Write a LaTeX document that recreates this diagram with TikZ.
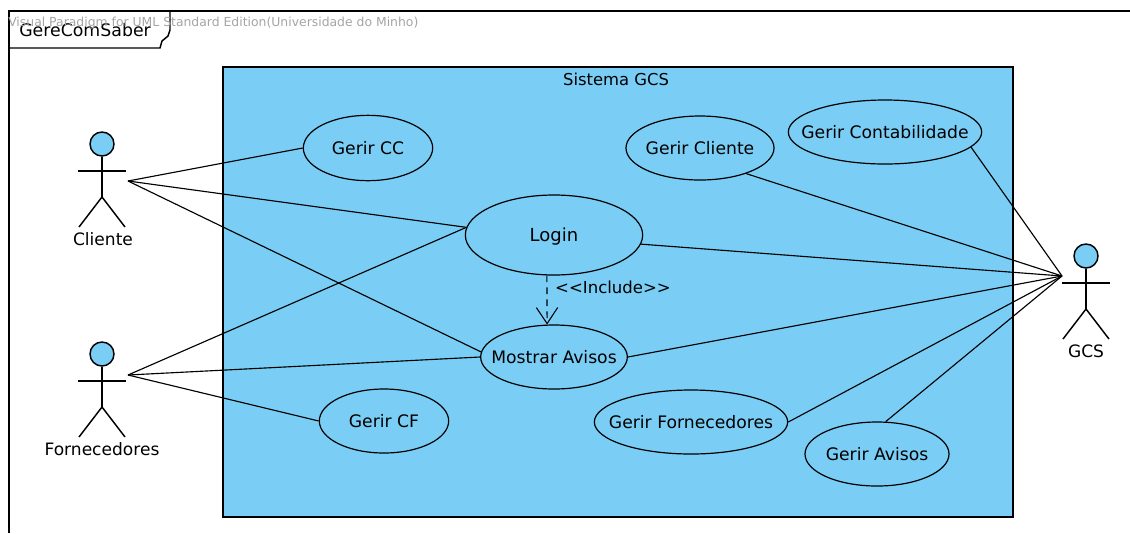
\documentclass[tikz,border=0pt]{standalone}
\usepackage{fontspec}
\setmainfont{DejaVu Sans}
\usetikzlibrary{arrows.meta,shapes.geometric}
\definecolor{ucblue}{RGB}{122,206,245}
\definecolor{notegrey}{RGB}{165,165,165}
\tikzset{
  x=0.75pt,y=-0.75pt,
  usecase/.style={draw=black,fill=ucblue,ellipse,line width=0.9pt,inner xsep=-12pt,inner ysep=-6pt,text height=9.5pt,text depth=0.5pt,font=\fontsize{12.9}{14}\selectfont},
  actorlabel/.style={font=\fontsize{12.8}{14}\selectfont,inner sep=0pt},
  assoc/.style={draw=black,line width=0.85pt},
  stick/.style={draw=black,line width=1.1pt},
  headc/.style={draw=black,fill=ucblue,circle,line width=1.1pt,inner sep=0pt,minimum size=18pt},
}
\newcommand{\stickman}[5]{% name, x, head centre y, label offset, label
  \node[headc] (#1head) at (#2,#3) {};
  \draw[stick] (#1head.south) -- (#2,#3+53) coordinate (#1hip);
  \draw[stick] (#2-24,#3+27) coordinate (#1la) -- (#2+24,#3+27) coordinate (#1ra);
  \draw[stick] (#2-23,#3+83) coordinate (#1lf) -- (#1hip) -- (#2+23,#3+83) coordinate (#1rf);
  \node[actorlabel] (#1label) at (#2+#4,#3+95) {#5};
}
\begin{document}
\begin{tikzpicture}
\useasboundingbox (0,0) rectangle (1130,533);
\fill[white] (0,0) rectangle (1130,533);
% frame
\draw[black,line width=1.1pt] (9,533) -- (9,11) -- (1130,11);
\draw[black,line width=1.1pt] (9,48) -- (160,48) -- (162,41) -- (168,36) -- (170,30) -- (170,11);
\node[inner sep=0pt,anchor=west,font=\fontsize{13}{14}\selectfont] (frametitle) at (19,30) {GereComSaber};
\node[inner sep=0pt,anchor=west,text=notegrey,font=\fontsize{9.3}{10}\selectfont] (note) at (8,23) {Visual Paradigm for UML Standard Edition(Universidade do Minho)};
% system
\node[draw=black,fill=ucblue,line width=1.1pt,minimum width=592.5pt,minimum height=337.5pt,inner sep=0pt] (sys) at (618,292) {};
\node[inner sep=0pt,font=\fontsize{12.3}{14}\selectfont] (systitle) at (616,79) {Sistema GCS};
% use cases
\node[usecase,minimum width=97pt,minimum height=49pt] (cc) at (368,148) {Gerir CC};
\node[usecase,minimum width=111pt,minimum height=48pt] (cli) at (700,148) {Gerir Cliente};
\node[usecase,minimum width=145pt,minimum height=48pt] (cont) at (885,132) {Gerir Contabilidade};
\node[usecase,minimum width=133pt,minimum height=60pt,font=\fontsize{13.5}{14}\selectfont] (login) at (554,235) {Login};
\node[usecase,minimum width=110pt,minimum height=48pt] (avisos) at (554,357) {Mostrar Avisos};
\node[usecase,minimum width=97pt,minimum height=48pt] (cf) at (384,421) {Gerir CF};
\node[usecase,minimum width=145pt,minimum height=48pt] (forn) at (691,422) {Gerir Fornecedores};
\node[usecase,minimum width=108pt,minimum height=48pt] (gav) at (877,454) {Gerir Avisos};
% actors
\stickman{a}{102}{144}{1}{Cliente}
\stickman{b}{102}{354}{0}{Fornecedores}
\stickman{c}{1086}{256}{0}{GCS}
\coordinate (ap) at (128,181);
\coordinate (bp) at (128,375);
\coordinate (cp) at (1062,276);
% associations
\draw[assoc] (ap) -- (cc.west);
\draw[assoc] (ap) -- (login.175);
\draw[assoc] (ap) -- (avisos.176);
\draw[assoc] (bp) -- (login.175);
\draw[assoc] (bp) -- (avisos.180);
\draw[assoc] (bp) -- (cf.west);
\draw[assoc] (cp) -- (cont.-10);
\draw[assoc] (cp) -- (cli.-29);
\draw[assoc] (cp) -- (login.-6);
\draw[assoc] (cp) -- (avisos.east);
\draw[assoc] (cp) -- (forn.east);
\draw[assoc] (cp) -- (gav.75);
% include
\draw[assoc,dash pattern=on 5pt off 4pt,-{Straight Barb[length=12pt,width=16pt,line width=0.8pt]}] (login.-100) -- (avisos.102);
\node[inner sep=0pt,font=\fontsize{12.4}{13}\selectfont] (inc) at (613,287) {{<}{<}Include{>}{>}};
\end{tikzpicture}
\end{document}
